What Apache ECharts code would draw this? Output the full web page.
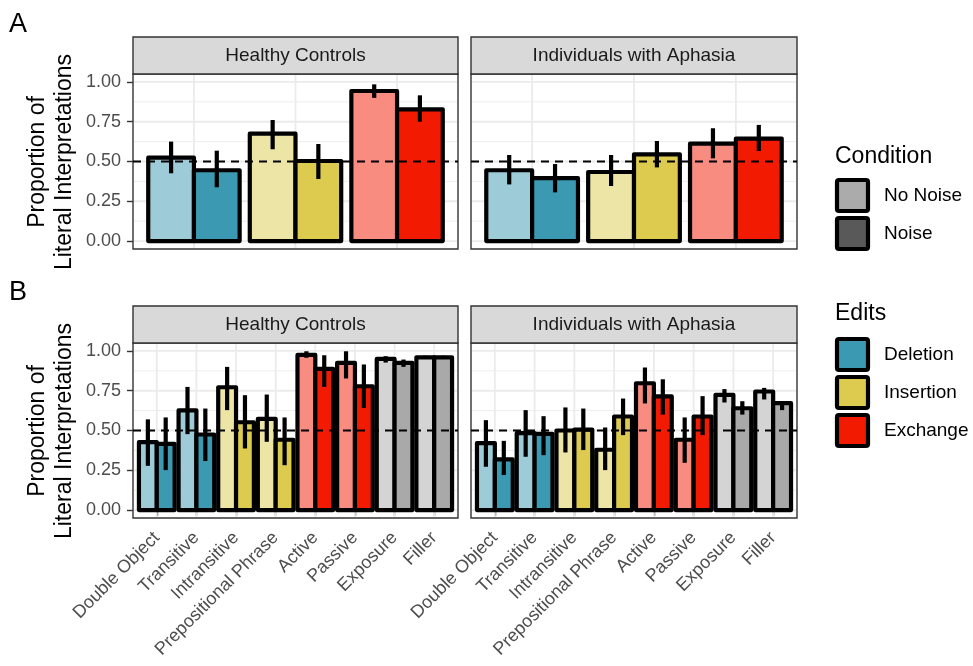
<!DOCTYPE html>
<html>
<head>
<meta charset="utf-8">
<script src="https://cdn.jsdelivr.net/npm/echarts@6/dist/echarts.min.js"></script>
<style>
  html, body { margin: 0; padding: 0; background: #ffffff; }
  #chart { width: 973px; height: 666px; }
</style>
</head>
<body>
<div id="chart"></div>
<script>
// ---- labels ----
const facetLabels = ['Healthy Controls', 'Individuals with Aphasia'];
const conditionLabels = ['No Noise', 'Noise'];
const editLabels = ['Deletion', 'Insertion', 'Exchange'];
const editOfEditType = [0, 1, 2];
const sentenceTypes = ['Double Object', 'Transitive', 'Intransitive', 'Prepositional Phrase',
                       'Active', 'Passive', 'Exposure', 'Filler'];
// edit family of each sentence type (3 = unedited: exposure / filler)
const editOfSentence = [0, 0, 1, 1, 2, 2, 3, 3];
const yBreaks = [0, 0.25, 0.5, 0.75, 1];
const yMinorBreaks = [0.125, 0.375, 0.625, 0.875];
const chanceLevel = [0.5];

// ---- A: proportion literal by edit type ----
const editHealthyNoNoise      = [0.524, 0.675, 0.943];
const editHealthyNoNoiseLow   = [0.426, 0.577, 0.900];
const editHealthyNoNoiseHigh  = [0.625, 0.761, 0.985];
const editHealthyNoise        = [0.445, 0.503, 0.828];
const editHealthyNoiseLow     = [0.338, 0.390, 0.750];
const editHealthyNoiseHigh    = [0.568, 0.610, 0.916];

const editAphasiaNoNoise      = [0.445, 0.434, 0.612];
const editAphasiaNoNoiseLow   = [0.356, 0.346, 0.520];
const editAphasiaNoNoiseHigh  = [0.541, 0.541, 0.709];
const editAphasiaNoise        = [0.396, 0.545, 0.644];
const editAphasiaNoiseLow     = [0.306, 0.463, 0.566];
const editAphasiaNoiseHigh    = [0.484, 0.629, 0.730];

// ---- B: proportion literal by sentence type ----
const sentHealthyNoNoise      = [0.427, 0.626, 0.772, 0.573, 0.975, 0.925, 0.950, 0.960];
const sentHealthyNoNoiseLow   = [0.278, 0.477, 0.628, 0.429, 0.957, 0.827, 0.927, 0.952];
const sentHealthyNoNoiseHigh  = [0.570, 0.774, 0.900, 0.726, 0.998, 0.998, 0.967, 0.970];
const sentHealthyNoise        = [0.416, 0.475, 0.552, 0.442, 0.887, 0.778, 0.925, 0.960];
const sentHealthyNoiseLow     = [0.251, 0.308, 0.387, 0.282, 0.774, 0.642, 0.900, 0.952];
const sentHealthyNoiseHigh    = [0.582, 0.638, 0.722, 0.582, 0.973, 0.915, 0.946, 0.970];

const sentAphasiaNoNoise      = [0.421, 0.483, 0.500, 0.379, 0.797, 0.442, 0.724, 0.745];
const sentAphasiaNoNoiseLow   = [0.272, 0.335, 0.362, 0.251, 0.670, 0.297, 0.676, 0.695];
const sentAphasiaNoNoiseHigh  = [0.565, 0.628, 0.645, 0.519, 0.896, 0.582, 0.760, 0.768];
const sentAphasiaNoise        = [0.318, 0.479, 0.506, 0.588, 0.714, 0.588, 0.640, 0.672];
const sentAphasiaNoiseLow     = [0.220, 0.345, 0.377, 0.471, 0.600, 0.471, 0.600, 0.628];
const sentAphasiaNoiseHigh    = [0.435, 0.590, 0.638, 0.701, 0.822, 0.716, 0.684, 0.685];

// ---- styling ----
const FONT = '"Liberation Sans", Arial, Helvetica, sans-serif';
const fillNoise   = ['#3B9AB2', '#DCCB4E', '#F21A00', '#A9A9A9'];
const fillNoNoise = ['#9DCCD8', '#EDE5A6', '#F88C80', '#D4D4D4'];
const conditionKeyFill = ['#ABABAB', '#595959'];
const DODGE = 0.225;      // half of the 0.9 dodge width
const HALF_BAR = 0.225;   // half bar width in category units
const OUTLINE = 4.2;

const panels = [
  { left: 133, top: 74,  width: 325, height: 175 },
  { left: 471, top: 74,  width: 326, height: 175 },
  { left: 133, top: 343, width: 325, height: 175 },
  { left: 471, top: 343, width: 326, height: 175 }
];

function buildBars(mNN, loNN, hiNN, mN, loN, hiN, editOf) {
  const out = [];
  mNN.forEach((m, i) => {
    out.push([i + 1 - DODGE, m, loNN[i], hiNN[i], editOf[i], 0]);
    out.push([i + 1 + DODGE, mN[i], loN[i], hiN[i], editOf[i], 1]);
  });
  return out;
}

const panelBars = [
  buildBars(editHealthyNoNoise, editHealthyNoNoiseLow, editHealthyNoNoiseHigh,
            editHealthyNoise, editHealthyNoiseLow, editHealthyNoiseHigh, editOfEditType),
  buildBars(editAphasiaNoNoise, editAphasiaNoNoiseLow, editAphasiaNoNoiseHigh,
            editAphasiaNoise, editAphasiaNoiseLow, editAphasiaNoiseHigh, editOfEditType),
  buildBars(sentHealthyNoNoise, sentHealthyNoNoiseLow, sentHealthyNoNoiseHigh,
            sentHealthyNoise, sentHealthyNoiseLow, sentHealthyNoiseHigh, editOfSentence),
  buildBars(sentAphasiaNoNoise, sentAphasiaNoNoiseLow, sentAphasiaNoNoiseHigh,
            sentAphasiaNoise, sentAphasiaNoiseLow, sentAphasiaNoiseHigh, editOfSentence)
];
const panelCategories = [editLabels, editLabels, sentenceTypes, sentenceTypes];

// background grid: [kind, value]  kind 0 = major horizontal, 1 = minor horizontal, 2 = vertical
function gridData(nCat) {
  const d = [];
  yMinorBreaks.forEach(v => d.push([1, v]));
  yBreaks.forEach(v => d.push([0, v]));
  for (let c = 1; c <= nCat; c++) d.push([2, c]);
  return d;
}

function renderGrid(params, api) {
  const cs = params.coordSys;
  const kind = api.value(0), v = api.value(1);
  if (kind === 2) {
    const p = api.coord([v, 0]);
    return { type: 'line', silent: true,
      shape: { x1: p[0], y1: cs.y + 1, x2: p[0], y2: cs.y + cs.height - 1 },
      style: { stroke: '#EBEBEB', lineWidth: 1.8 } };
  }
  const p = api.coord([1, v]);
  return { type: 'line', silent: true,
    shape: { x1: cs.x + 1, y1: p[1], x2: cs.x + cs.width - 1, y2: p[1] },
    style: { stroke: '#EBEBEB', lineWidth: kind === 0 ? 1.8 : 0.9 } };
}

function renderBar(params, api) {
  const x = api.value(0), y = api.value(1);
  const edit = api.value(4), cond = api.value(5);
  const p0 = api.coord([x - HALF_BAR, y]);
  const p1 = api.coord([x + HALF_BAR, 0]);
  return { type: 'rect',
    shape: { x: p0[0], y: p0[1], width: p1[0] - p0[0], height: p1[1] - p0[1] },
    style: { fill: cond === 0 ? fillNoNoise[edit] : fillNoise[edit], stroke: '#000000',
             lineWidth: OUTLINE, lineJoin: 'round' } };
}

function renderError(params, api) {
  const x = api.value(0);
  const pLo = api.coord([x, api.value(2)]);
  const pHi = api.coord([x, api.value(3)]);
  return { type: 'line',
    shape: { x1: pLo[0], y1: pLo[1], x2: pHi[0], y2: pHi[1] },
    style: { stroke: '#000000', lineWidth: OUTLINE, lineCap: 'butt' } };
}

function renderChance(params, api) {
  const cs = params.coordSys;
  const p = api.coord([1, api.value(0)]);
  return { type: 'line',
    shape: { x1: cs.x, y1: p[1], x2: cs.x + cs.width, y2: p[1] },
    style: { stroke: '#000000', lineWidth: 1.8, lineDash: [8, 6] } };
}

const grids = [], xAxes = [], yAxes = [], series = [];
panels.forEach((p, i) => {
  const nCat = panelCategories[i].length;
  const isLeft = i % 2 === 0;
  const isBottom = i >= 2;
  grids.push({ left: p.left, top: p.top, width: p.width, height: p.height,
    show: true, backgroundColor: '#ffffff', borderColor: '#333333', borderWidth: 1.4 });
  const cats = panelCategories[i];
  const catTicks = cats.map((_, k) => k + 1);
  xAxes.push({
    type: 'value', gridIndex: i, min: 0.4, max: nCat + 0.6,
    axisLine: { show: false }, splitLine: { show: false },
    axisTick: { show: isBottom, customValues: catTicks, length: 6,
                lineStyle: { color: '#333333', width: 1.4 } },
    axisLabel: { show: isBottom, customValues: catTicks, rotate: 45, margin: 17,
                 color: '#4D4D4D', fontSize: 18, fontFamily: FONT,
                 formatter: v => cats[Math.round(v) - 1] || '' }
  });
  yAxes.push({
    type: 'value', gridIndex: i, min: -0.05, max: 1.05,
    axisLine: { show: false }, splitLine: { show: false },
    axisTick: { show: isLeft, customValues: yBreaks, length: 6,
                lineStyle: { color: '#333333', width: 1.4 } },
    axisLabel: { show: isLeft, customValues: yBreaks, margin: 12,
                 color: '#4D4D4D', fontSize: 18, fontFamily: FONT,
                 formatter: v => v.toFixed(2) }
  });
  series.push({ type: 'custom', xAxisIndex: i, yAxisIndex: i, z: 1, silent: true,
    renderItem: renderGrid, data: gridData(nCat) });
  series.push({ type: 'custom', xAxisIndex: i, yAxisIndex: i, z: 2,
    renderItem: renderBar, data: panelBars[i] });
  series.push({ type: 'custom', xAxisIndex: i, yAxisIndex: i, z: 3,
    renderItem: renderError, data: panelBars[i] });
  series.push({ type: 'custom', xAxisIndex: i, yAxisIndex: i, z: 4, silent: true,
    renderItem: renderChance, data: chanceLevel.map(v => [v]) });
});

// strips, panel tags, axis titles, legends
const graphics = [];
panels.forEach((p, i) => {
  const stripTop = p.top - 37;
  graphics.push({ type: 'rect', silent: true,
    shape: { x: p.left, y: stripTop, width: p.width, height: 37 },
    style: { fill: '#D9D9D9', stroke: '#333333', lineWidth: 1.4 } });
  graphics.push({ type: 'text', silent: true, x: p.left + p.width / 2, y: stripTop + 19,
    style: { text: facetLabels[i % 2], fill: '#1A1A1A', font: '19px ' + FONT,
             align: 'center', verticalAlign: 'middle' } });
});
[['A', 25], ['B', 293]].forEach(([t, y]) => {
  graphics.push({ type: 'text', silent: true, x: 9, y: y,
    style: { text: t, fill: '#000000', font: '27px ' + FONT, align: 'left', verticalAlign: 'middle' } });
});
[162, 431].forEach(cy => {
  graphics.push({ type: 'text', silent: true, x: 51, y: cy, rotation: Math.PI / 2,
    style: { text: 'Proportion of\nLiteral Interpretations', fill: '#000000',
             font: '23px ' + FONT, lineHeight: 27, align: 'center', verticalAlign: 'middle' } });
});

function legendBlock(title, titleY, labels, fills, keyTop) {
  graphics.push({ type: 'text', silent: true, x: 835, y: titleY,
    style: { text: title, fill: '#000000', font: '23px ' + FONT, align: 'left', verticalAlign: 'middle' } });
  labels.forEach((lab, k) => {
    const y = keyTop + k * 38;
    graphics.push({ type: 'rect', silent: true,
      shape: { x: 837, y: y, width: 31, height: 31, r: 2 },
      style: { fill: fills[k], stroke: '#000000', lineWidth: OUTLINE } });
    graphics.push({ type: 'text', silent: true, x: 884, y: y + 16,
      style: { text: lab, fill: '#000000', font: '19px ' + FONT, align: 'left', verticalAlign: 'middle' } });
  });
}
legendBlock('Condition', 157, conditionLabels, conditionKeyFill, 180);
legendBlock('Edits', 314, editLabels, fillNoise.slice(0, 3), 339);

const chart = echarts.init(document.getElementById('chart'), null, { renderer: 'canvas' });
chart.setOption({
  animation: false,
  backgroundColor: '#ffffff',
  textStyle: { fontFamily: FONT },
  grid: grids,
  xAxis: xAxes,
  yAxis: yAxes,
  series: series,
  graphic: graphics
});
</script>
</body>
</html>
